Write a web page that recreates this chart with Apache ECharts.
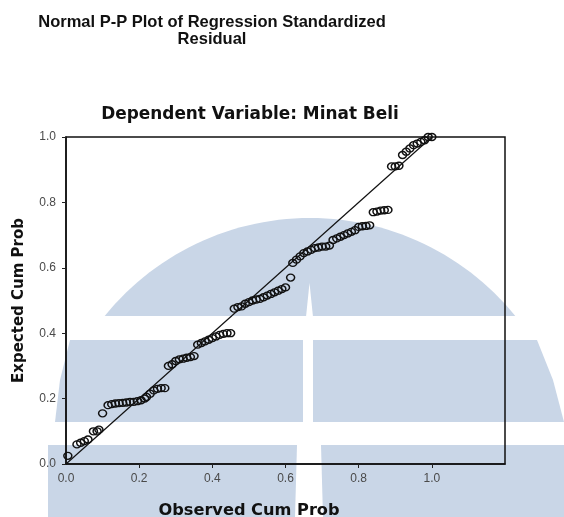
<!DOCTYPE html>
<html>
<head>
<meta charset="utf-8">
<script src="https://cdn.jsdelivr.net/npm/echarts@6/dist/echarts.min.js"></script>
<style>html,body{margin:0;padding:0;background:#fff;}#c{width:564px;height:517px;}</style>
</head>
<body>
<div id="c"></div>
<script>
// ---- data ----
var titleLines = ['Normal P-P Plot of Regression Standardized', 'Residual'];
var subTitle = 'Dependent Variable: Minat Beli';
var xName = 'Observed Cum Prob';
var yName = 'Expected Cum Prob';
var tickValues = [0, 0.2, 0.4, 0.6, 0.8, 1.0];

var observedCumProb = [
  0.005,
  0.03, 0.04, 0.05, 0.06,
  0.075, 0.085, 0.09,
  0.10,
  0.115, 0.125, 0.135, 0.145, 0.155, 0.165, 0.175, 0.185, 0.195,
  0.205, 0.215, 0.22, 0.23, 0.24, 0.25, 0.26, 0.27,
  0.28, 0.29, 0.30, 0.31, 0.32, 0.33, 0.34, 0.35,
  0.36, 0.37, 0.38, 0.39, 0.40, 0.41, 0.42, 0.43, 0.44, 0.45,
  0.46, 0.47, 0.48, 0.49, 0.50, 0.51, 0.52, 0.53, 0.54, 0.55, 0.56, 0.57, 0.58, 0.59, 0.60,
  0.614,
  0.62, 0.63, 0.64, 0.65, 0.66, 0.67,
  0.68, 0.69, 0.70, 0.71, 0.72,
  0.73, 0.74, 0.75, 0.76, 0.77, 0.78, 0.79,
  0.80, 0.81, 0.82, 0.83,
  0.84, 0.85, 0.86, 0.87, 0.88,
  0.89, 0.90, 0.91,
  0.92, 0.93, 0.94,
  0.95, 0.96, 0.97, 0.98,
  0.99, 1.00
];
var expectedCumProb = [
  0.025,
  0.06, 0.065, 0.07, 0.075,
  0.10, 0.10, 0.105,
  0.155,
  0.18, 0.183, 0.185, 0.186, 0.187, 0.188, 0.19, 0.19, 0.192,
  0.195, 0.20, 0.205, 0.215, 0.225, 0.23, 0.232, 0.232,
  0.30, 0.305, 0.315, 0.32, 0.322, 0.325, 0.327, 0.33,
  0.365, 0.37, 0.375, 0.38, 0.385, 0.39, 0.395, 0.398, 0.40, 0.40,
  0.475, 0.48, 0.482, 0.49, 0.495, 0.50, 0.503, 0.505, 0.51, 0.515, 0.52, 0.525, 0.53, 0.535, 0.54,
  0.57,
  0.615, 0.625, 0.635, 0.645, 0.65, 0.655,
  0.66, 0.662, 0.665, 0.665, 0.668,
  0.685, 0.69, 0.695, 0.70, 0.705, 0.71, 0.715,
  0.725, 0.727, 0.728, 0.73,
  0.77, 0.772, 0.775, 0.776, 0.777,
  0.91, 0.91, 0.912,
  0.945, 0.955, 0.965,
  0.975, 0.98, 0.985, 0.99,
  1.00, 1.00
];
var refLine = [[0, 0], [1, 1]];

// ---- build chart ----
var points = observedCumProb.map(function (v, i) { return [v, expectedCumProb[i]]; });

// decorative background watermark shape
var wm = '#c9d6e7';
function domePoints() {
  var cx = 310, cy = 482, r = 264, yCut = 316;
  var a0 = Math.asin((cy - yCut) / r);
  var pts = [];
  for (var k = 0; k <= 60; k++) {
    var a = Math.PI - a0 - (Math.PI - 2 * a0) * k / 60;
    pts.push([cx + r * Math.cos(a), cy - r * Math.sin(a)]);
  }
  return pts;
}
var watermark = [
  { type: 'polygon', shape: { points: domePoints() }, style: { fill: wm }, silent: true },
  { type: 'polygon', shape: { points: [[306, 317], [309.5, 283], [313, 317]] }, style: { fill: '#fff' }, silent: true },
  { type: 'polygon', shape: { points: [[70, 340], [303, 340], [303, 422], [55, 422], [60, 380]] }, style: { fill: wm }, silent: true },
  { type: 'polygon', shape: { points: [[313, 340], [537, 340], [553, 380], [564, 422], [313, 422]] }, style: { fill: wm }, silent: true },
  { type: 'polygon', shape: { points: [[48, 445], [297, 445], [295, 517], [48, 517]] }, style: { fill: wm }, silent: true },
  { type: 'polygon', shape: { points: [[321, 445], [564, 445], [564, 517], [323, 517]] }, style: { fill: wm }, silent: true }
];

var chart = echarts.init(document.getElementById('c'), null, { renderer: 'canvas' });
var boldSans = { fontFamily: 'Liberation Sans', fontWeight: 'bold', color: '#111' };
chart.setOption({
  backgroundColor: '#fff',
  animation: false,
  graphic: { elements: watermark.map(function (e) { e.z = -10; e.zlevel = 0; return e; }) },
  title: [
    { text: titleLines.join('\n'), left: 207, top: 9, textAlign: 'center',
      textStyle: Object.assign({ fontSize: 16.5, lineHeight: 17 }, boldSans) },
    { text: subTitle, left: 245, top: 101, textAlign: 'center',
      textStyle: { fontFamily: 'DejaVu Sans', fontWeight: 'bold', fontSize: 16.9, color: '#111' } },
    { text: xName, left: 244, top: 498, textAlign: 'center',
      textStyle: { fontFamily: 'DejaVu Sans', fontWeight: 'bold', fontSize: 16.2, color: '#111' } }
  ],
  grid: { left: 66, top: 137, width: 439, height: 327, show: true, borderColor: '#111', borderWidth: 1.5, backgroundColor: 'transparent' },
  xAxis: {
    type: 'value', min: 0, max: 1.2, interval: 0.2,
    axisLine: { show: true, onZero: false, lineStyle: { color: '#111', width: 1.5 } },
    axisTick: { show: true, inside: false, length: 4, customValues: tickValues.slice(1), lineStyle: { color: '#222' } },
    axisLabel: { show: true, margin: 9, customValues: tickValues, fontFamily: 'Liberation Sans', fontSize: 12, color: '#4a4a4a',
      formatter: function (v) { return v.toFixed(1); } },
    splitLine: { show: false }
  },
  yAxis: {
    type: 'value', min: 0, max: 1, interval: 0.2,
    name: yName, nameLocation: 'middle', nameGap: 39, nameRotate: 90,
    nameTextStyle: { fontFamily: 'DejaVu Sans', fontWeight: 'bold', fontSize: 15, color: '#111' },
    axisLine: { show: true, onZero: false, lineStyle: { color: '#111', width: 1.5 } },
    axisTick: { show: true, inside: false, length: 4, lineStyle: { color: '#222' } },
    axisLabel: { margin: 10, fontFamily: 'Liberation Sans', fontSize: 12, color: '#4a4a4a',
      formatter: function (v) { return v.toFixed(1); } },
    splitLine: { show: false }
  },
  series: [
    { type: 'line', data: refLine, symbol: 'none', lineStyle: { color: '#111', width: 1.2 }, z: 3, silent: true },
    { type: 'scatter', data: points, symbol: 'circle', symbolSize: [8, 7],
      itemStyle: { color: 'rgba(0,0,0,0)', borderColor: '#111', borderWidth: 1.4, opacity: 1 }, z: 4, silent: true }
  ]
});
</script>
</body>
</html>
